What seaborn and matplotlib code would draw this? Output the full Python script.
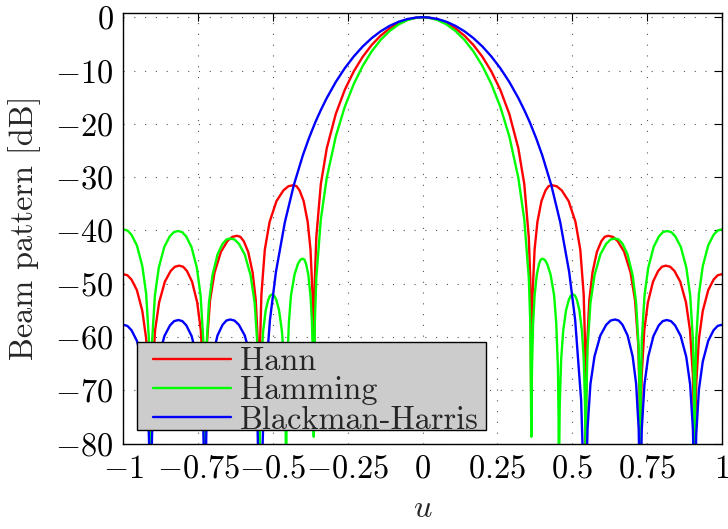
import numpy as np
import pandas as pd
import matplotlib
matplotlib.use("Agg")
import matplotlib.pyplot as plt
from matplotlib.patches import Rectangle
import seaborn as sns

# ---- data (right half, u >= 0; the pattern is symmetric in u) ----
windows = ["Hann", "Hamming", "Blackman-Harris"]
colors = ["#ff0000", "#00ff00", "#0000ff"]

hann_u = [0, 0.02, 0.05, 0.08, 0.11, 0.14, 0.17, 0.20, 0.23, 0.26, 0.29, 0.32, 0.34, 0.355, 0.36, 0.3636,
          0.3649, 0.3676, 0.3744, 0.3838, 0.3973, 0.4108, 0.4209, 0.431, 0.4482, 0.4653, 0.4882, 0.5111, 0.5271, 0.5385, 0.5431, 0.5454,
          0.5469, 0.5499, 0.5573, 0.5678, 0.5827, 0.5976, 0.6088, 0.62, 0.6361, 0.6522, 0.6737, 0.6951, 0.7101, 0.7209, 0.7252, 0.7273,
          0.7290, 0.7324, 0.7410, 0.7530, 0.7702, 0.7873, 0.8001, 0.813, 0.8274, 0.8418, 0.8611, 0.8803, 0.8937, 0.9033, 0.9072, 0.9091,
          0.9109, 0.9146, 0.9236, 0.9364, 0.9546, 0.9727, 0.9864, 1.0]
hann_db = [0, -0.07, -0.43, -1.10, -2.10, -3.46, -5.21, -7.42, -10.17, -13.64, -18.15, -24.56, -31.32, -41.25, -49.18, -76.0,
           -61.6, -52.0, -43.6, -38.4, -34.5, -32.5, -31.7, -31.5, -31.7, -32.5, -34.5, -38.4, -43.6, -52.0, -61.6, -100,
           -71.1, -61.5, -53.1, -47.9, -44.0, -42.0, -41.2, -41.0, -41.2, -42.0, -44.0, -47.9, -53.1, -61.5, -71.1, -100,
           -76.7, -67.1, -58.7, -53.5, -49.6, -47.6, -46.8, -46.6, -46.8, -47.6, -49.6, -53.5, -58.7, -67.1, -76.7, -100,
           -78.3, -68.7, -60.3, -55.1, -51.2, -49.2, -48.4, -48.2]

hamming_u = [0, 0.02, 0.05, 0.08, 0.11, 0.14, 0.17, 0.20, 0.23, 0.26, 0.29, 0.32, 0.34, 0.355, 0.36, 0.3636,
             0.3643, 0.3658, 0.3694, 0.3745, 0.3818, 0.3891, 0.3945, 0.40, 0.4084, 0.4167, 0.4279, 0.4397, 0.4468, 0.4524, 0.4546, 0.4557,
             0.4566, 0.4585, 0.4633, 0.4699, 0.4794, 0.4888, 0.4959, 0.503, 0.5094, 0.5157, 0.5242, 0.5327, 0.5386, 0.5429, 0.5446, 0.5454,
             0.5474, 0.5513, 0.5610, 0.5747, 0.5942, 0.6137, 0.6284, 0.643, 0.6556, 0.6683, 0.6852, 0.7020, 0.7138, 0.7222, 0.7256, 0.7273,
             0.7291, 0.7327, 0.7417, 0.7542, 0.7722, 0.7901, 0.8035, 0.817, 0.8308, 0.8446, 0.8631, 0.8815, 0.8944, 0.9036, 0.9073, 0.9091,
             0.9109, 0.9146, 0.9236, 0.9364, 0.9546, 0.9727, 0.9864, 1.0]
hamming_db = [0, -0.08, -0.52, -1.35, -2.58, -4.25, -6.41, -9.14, -12.54, -16.82, -22.37, -30.09, -37.96, -48.89, -57.19, -78.7,
              -72.0, -65.8, -57.4, -52.2, -48.3, -46.3, -45.5, -45.3, -45.5, -46.3, -48.3, -52.2, -57.4, -65.8, -75.4, -100,
              -82.1, -72.5, -64.1, -58.9, -55.0, -53.0, -52.2, -52.0, -52.2, -53.0, -55.0, -58.9, -64.1, -72.5, -82.1, -100,
              -71.6, -62.0, -53.6, -48.4, -44.5, -42.5, -41.7, -41.5, -41.7, -42.5, -44.5, -48.4, -53.6, -62.0, -71.6, -100,
              -70.2, -60.6, -52.2, -47.0, -43.1, -41.1, -40.3, -40.1, -40.3, -41.1, -43.1, -47.0, -52.2, -60.6, -70.2, -100,
              -69.9, -60.3, -51.9, -46.7, -42.8, -40.8, -40.0, -39.8]

bh_u = [0, 0.02, 0.05, 0.08, 0.11, 0.14, 0.17, 0.20, 0.23, 0.26, 0.29, 0.32, 0.34, 0.355, 0.36, 0.38, 0.40, 0.43, 0.46, 0.49, 0.51, 0.53, 0.5454,
        0.5474, 0.5513, 0.5610, 0.5747, 0.5942, 0.6137, 0.6284, 0.643, 0.6556, 0.6683, 0.6852, 0.7020, 0.7138, 0.7222, 0.7256, 0.7273,
        0.7291, 0.7326, 0.7415, 0.7539, 0.7717, 0.7894, 0.8027, 0.816, 0.8300, 0.8439, 0.8626, 0.8812, 0.8942, 0.9035, 0.9072, 0.9091,
        0.9109, 0.9146, 0.9236, 0.9364, 0.9546, 0.9727, 0.9864, 1.0]
bh_db = [0, -0.05, -0.33, -0.85, -1.62, -2.64, -3.92, -5.49, -7.37, -9.57, -12.15, -15.15, -17.42, -19.28, -19.93, -22.75, -25.90, -31.45, -38.42, -47.80, -56.81, -71.9, -100,
         -86.8, -77.2, -68.8, -63.6, -59.7, -57.7, -56.9, -56.7, -56.9, -57.7, -59.7, -63.6, -68.8, -77.2, -86.8, -100,
         -86.9, -77.3, -68.9, -63.7, -59.8, -57.8, -57.0, -56.8, -57.0, -57.8, -59.8, -63.7, -68.9, -77.3, -86.9, -100,
         -87.8, -78.2, -69.8, -64.6, -60.7, -58.7, -57.9, -57.7]

xticks = [-1, -0.75, -0.5, -0.25, 0, 0.25, 0.5, 0.75, 1]
xtick_labels = [r"$-1$", r"$-0.75$", r"$-0.5$", r"$-0.25$", r"$0$", r"$0.25$", r"$0.5$", r"$0.75$", r"$1$"]
yticks = [0, -10, -20, -30, -40, -50, -60, -70, -80]
ytick_labels = [r"$0$", r"$-10$", r"$-20$", r"$-30$", r"$-40$", r"$-50$", r"$-60$", r"$-70$", r"$-80$"]

# ---- build long table (mirror the read right half onto u < 0) ----
frames = []
for name, u, db in [("Hann", hann_u, hann_db), ("Hamming", hamming_u, hamming_db),
                    ("Blackman-Harris", bh_u, bh_db)]:
    u = np.asarray(u, float)
    db = np.asarray(db, float)
    uu = np.concatenate([-u[::-1], u[1:]])
    dd = np.concatenate([db[::-1], db[1:]])
    frames.append(pd.DataFrame({"u": uu, "dB": dd, "window": name}))
df = pd.concat(frames, ignore_index=True)

# ---- style ----
sns.set_style("white")
plt.rcParams["font.family"] = ["cmr10", "DejaVu Serif"]
plt.rcParams["mathtext.fontset"] = "cm"
plt.rcParams["axes.formatter.use_mathtext"] = True
FS = 23.3

fig = plt.figure(figsize=(7.28, 5.29), dpi=100)
ax = fig.add_axes([123.3 / 728, 1 - 443.7 / 529, 598.5 / 728, 431 / 529])

sns.lineplot(data=df, x="u", y="dB", hue="window", hue_order=windows,
             palette=dict(zip(windows, colors)), sort=False, estimator=None,
             units="window", linewidth=1.7, ax=ax, legend=True)

ax.set_xlim(-1, 1)
ax.set_ylim(-80, 0.85)
ax.set_xticks(xticks)
ax.set_xticklabels(xtick_labels)
ax.set_yticks(yticks)
ax.set_yticklabels(ytick_labels)
ax.grid(True, linestyle=(0, (1, 8.7)), color="#555555", linewidth=0.8)
ax.set_axisbelow(True)
ax.tick_params(direction="in", top=True, right=True, length=6, width=0.8,
               labelsize=FS, colors="black")
ax.tick_params(axis="x", pad=8)
ax.tick_params(axis="y", pad=7)
for s in ax.spines.values():
    s.set_visible(True)
    s.set_color("black")
    s.set_linewidth(1.0)

ax.set_xlabel(r"$u$", fontsize=FS, labelpad=7)
ax.set_ylabel("Beam pattern [dB]", fontsize=FS, labelpad=10)

# legend box (grey, black edge) and legend entries
box = Rectangle((0.0233, 0.0318), 0.5823, 0.2035, transform=ax.transAxes,
                facecolor="#cccccc", edgecolor="black", linewidth=1.0, zorder=4.5)
ax.add_patch(box)
handles, labels = ax.get_legend_handles_labels()
leg = ax.legend(handles, labels, loc="upper left", bbox_to_anchor=(0.05, 0.2235),
                borderaxespad=0, borderpad=0, fontsize=FS, frameon=False,
                handlelength=2.4, handletextpad=0.28, labelspacing=0.0)
leg.set_zorder(5)
for line in leg.get_lines():
    line.set_linewidth(1.7)

fig.savefig("out.png", dpi=100)
